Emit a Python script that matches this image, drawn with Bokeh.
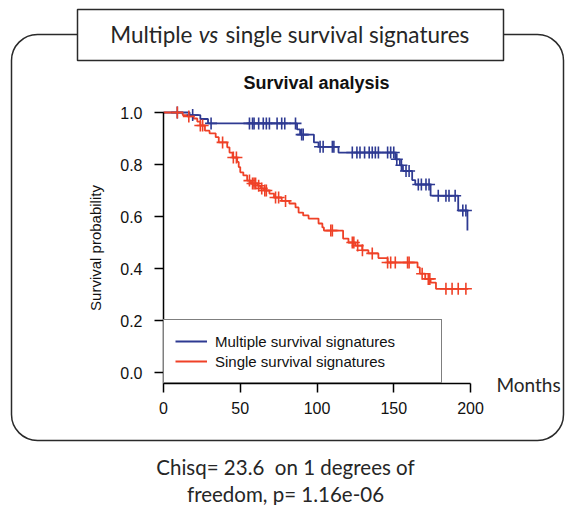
from bokeh.plotting import figure
from bokeh.models import (Range1d, BoxAnnotation, Label, Legend, LegendItem,
                          FixedTicker, ColumnDataSource, LinearAxis)
from bokeh.embed import file_html
from bokeh.resources import INLINE

# ---------------- data ----------------
multi_times = [0, 17, 24, 29, 87, 89, 98, 101, 114, 151, 154, 156, 162, 164, 174, 192, 198]
multi_surv = [1.0, 0.99, 0.975, 0.958, 0.935, 0.915, 0.885, 0.868, 0.846, 0.82, 0.797,
              0.775, 0.74, 0.723, 0.68, 0.623, 0.546]
multi_end = 198
multi_censor = [9, 19, 31, 56, 58, 59, 62, 65, 67, 69, 74, 77, 79, 86, 90, 91, 102, 104,
                110, 111, 123, 126, 128, 131, 134, 136, 138, 140, 146, 148, 150, 152, 155,
                158, 160, 166, 168, 171, 173, 179, 184, 186, 190, 195, 197]

single_times = [0, 12.5, 15.5, 19.5, 22, 24, 27, 30, 34, 36, 41.5, 43, 45, 48, 49, 50, 52,
                54.5, 57, 61.5, 63.5, 65.5, 69, 72, 77, 82, 86, 88, 91, 94.5, 101, 103.5,
                104.5, 117, 120.5, 125, 129.5, 133.5, 140, 146, 165.5, 167, 170.5, 174, 177.5]
single_surv = [1.0, 0.99, 0.985, 0.977, 0.965, 0.95, 0.93, 0.92, 0.905, 0.885, 0.866, 0.846,
               0.827, 0.81, 0.79, 0.77, 0.758, 0.738, 0.727, 0.718, 0.708, 0.70, 0.688, 0.673,
               0.66, 0.65, 0.635, 0.615, 0.604, 0.592, 0.573, 0.558, 0.546, 0.515, 0.5, 0.488,
               0.47, 0.458, 0.44, 0.423, 0.404, 0.38, 0.36, 0.346, 0.322]
single_end = 198.5
single_censor = [9, 16.5, 24, 25.5, 38.5, 45.5, 47.5, 56, 58, 59, 60, 62, 64, 66, 67, 73, 75,
                 79.5, 109, 110, 123, 124, 126.5, 129.6, 136, 146, 148, 151, 159, 160, 168.5,
                 172.5, 173.5, 184, 188, 192, 197]

series_names = ["Multiple survival signatures", "Single survival signatures"]
x_ticks = [0, 50, 100, 150, 200]
y_ticks = [0.0, 0.2, 0.4, 0.6, 0.8, 1.0]

BLUE = "#2E3A92"
RED = "#EF4127"
TXT = "#262626"
W, H = 566, 505

# pixel placement of the data window on the canvas
X0_PX, X1_PX = 163, 470       # months 0 .. 200
Y0_PX, Y1_PX = 372, 112       # survival 0 .. 1
x_scale = (X1_PX - X0_PX) / 200.0
y_scale = (Y0_PX - Y1_PX) / 1.0
x_lo, x_hi = -X0_PX / x_scale, (W - X0_PX) / x_scale
y_lo, y_hi = (Y0_PX - H) / y_scale, Y0_PX / y_scale
Y_AXIS_BOTTOM = -0.042


def km_value(times, surv, t):
    v = surv[0]
    for ti, si in zip(times, surv):
        if ti <= t:
            v = si
    return v


p = figure(width=W, height=H, output_backend="svg", toolbar_location=None,
           x_range=Range1d(x_lo, x_hi), y_range=Range1d(y_lo, y_hi),
           x_axis_type=None, y_axis_type=None, min_border=0)
p.outline_line_color = None
p.background_fill_color = "white"
p.border_fill_color = "white"

xaxis = LinearAxis(fixed_location=Y_AXIS_BOTTOM, bounds=(0, 200),
                   ticker=FixedTicker(ticks=x_ticks))
yaxis = LinearAxis(fixed_location=0, bounds=(Y_AXIS_BOTTOM, 1.0),
                   ticker=FixedTicker(ticks=y_ticks))
p.add_layout(xaxis, "below")
p.add_layout(yaxis, "left")

for ax in (xaxis, yaxis):
    ax.axis_line_color = "black"
    ax.axis_line_width = 1.5
    ax.major_tick_line_color = "black"
    ax.major_tick_line_width = 1.5
    ax.major_tick_out = 9
    ax.major_tick_in = 0
    ax.minor_tick_line_color = None
    ax.major_label_text_font = "Liberation Sans"
    ax.major_label_text_font_size = "16px"
    ax.major_label_text_color = "#111111"

xaxis.major_label_standoff = 10
yaxis.major_label_standoff = 12
yaxis.major_label_overrides = {v: f"{v:.1f}" for v in y_ticks}
yaxis.axis_label = "Survival probability"
yaxis.axis_label_text_font = "Liberation Sans"
yaxis.axis_label_text_font_style = "normal"
yaxis.axis_label_text_font_size = "15px"
yaxis.axis_label_text_color = "#111111"
yaxis.axis_label_standoff = 13

# decorations: outer rounded frame and title box
outer = BoxAnnotation(left=11, right=563, top=H - 34, bottom=H - 440,
                      left_units="screen", right_units="screen",
                      top_units="screen", bottom_units="screen",
                      fill_alpha=0, line_color="#2a2a2a", line_alpha=1.0, line_width=1.5,
                      border_radius=26, level="underlay")
p.add_layout(outer)
title_box = BoxAnnotation(left=77, right=503, top=H - 9, bottom=H - 60,
                          left_units="screen", right_units="screen",
                          top_units="screen", bottom_units="screen",
                          fill_color="white", fill_alpha=1.0, line_color="#2a2a2a",
                          line_alpha=1.0, line_width=1.5, level="underlay")
p.add_layout(title_box)

# curves
mx = multi_times + [multi_end]
my = multi_surv + [multi_surv[-1]]
sx = single_times + [single_end]
sy = single_surv + [single_surv[-1]]
r_multi = p.step(mx, my, mode="after", line_color=BLUE, line_width=1.8)
r_single = p.step(sx, sy, mode="after", line_color=RED, line_width=1.8)

mc = ColumnDataSource(dict(x=multi_censor,
                           y=[km_value(multi_times, multi_surv, t) for t in multi_censor]))
sc = ColumnDataSource(dict(x=single_censor,
                           y=[km_value(single_times, single_surv, t) for t in single_censor]))
p.scatter("x", "y", source=mc, marker="cross", size=12, line_color=BLUE, line_width=1.6)
p.scatter("x", "y", source=sc, marker="cross", size=12, line_color=RED, line_width=1.6)

legend = Legend(items=[LegendItem(label=series_names[0], renderers=[r_multi]),
                       LegendItem(label=series_names[1], renderers=[r_single])],
                location=(X0_PX, H - 383), margin=0, padding=11, spacing=0,
                glyph_width=32, glyph_height=20, label_height=20, label_width=215,
                label_standoff=8, label_text_font="Liberation Sans",
                label_text_font_size="15px", label_text_color="#111111",
                border_line_color="black", border_line_width=1.5,
                background_fill_color="white", background_fill_alpha=1.0)
p.add_layout(legend, "center")

TITLE_Y = H - 34
p.add_layout(Label(x=192, y=TITLE_Y, x_units="screen", y_units="screen",
                   text="Multiple", text_font="Lato", text_font_size="22.5px",
                   text_align="right", text_baseline="middle", text_color=TXT))
p.add_layout(Label(x=208, y=TITLE_Y, x_units="screen", y_units="screen",
                   text="vs", text_font="Lato", text_font_style="italic",
                   text_font_size="22.5px", text_align="center", text_baseline="middle",
                   text_color=TXT))
p.add_layout(Label(x=225, y=TITLE_Y, x_units="screen", y_units="screen",
                   text="single survival signatures", text_font="Lato",
                   text_font_size="22.5px", text_align="left", text_baseline="middle",
                   text_color=TXT))
p.add_layout(Label(x=316, y=H - 82, x_units="screen", y_units="screen",
                   text="Survival analysis", text_font="Liberation Sans",
                   text_font_style="bold", text_font_size="18px", text_align="center",
                   text_baseline="middle", text_color="#111111"))
p.add_layout(Label(x=528, y=H - 384, x_units="screen", y_units="screen",
                   text="Months", text_font="Lato", text_font_size="19px",
                   text_align="center", text_baseline="middle", text_color=TXT))
p.add_layout(Label(x=285, y=H - 466, x_units="screen", y_units="screen",
                   text="Chisq= 23.6 \u00a0on 1 degrees of", text_font="Lato",
                   text_font_size="20.5px", text_align="center", text_baseline="middle",
                   text_color=TXT))
p.add_layout(Label(x=285, y=H - 493, x_units="screen", y_units="screen",
                   text="freedom, p= 1.16e-06", text_font="Lato",
                   text_font_size="20.5px", text_align="center", text_baseline="middle",
                   text_color=TXT))

open("out.html", "w").write(file_html(p, INLINE))
